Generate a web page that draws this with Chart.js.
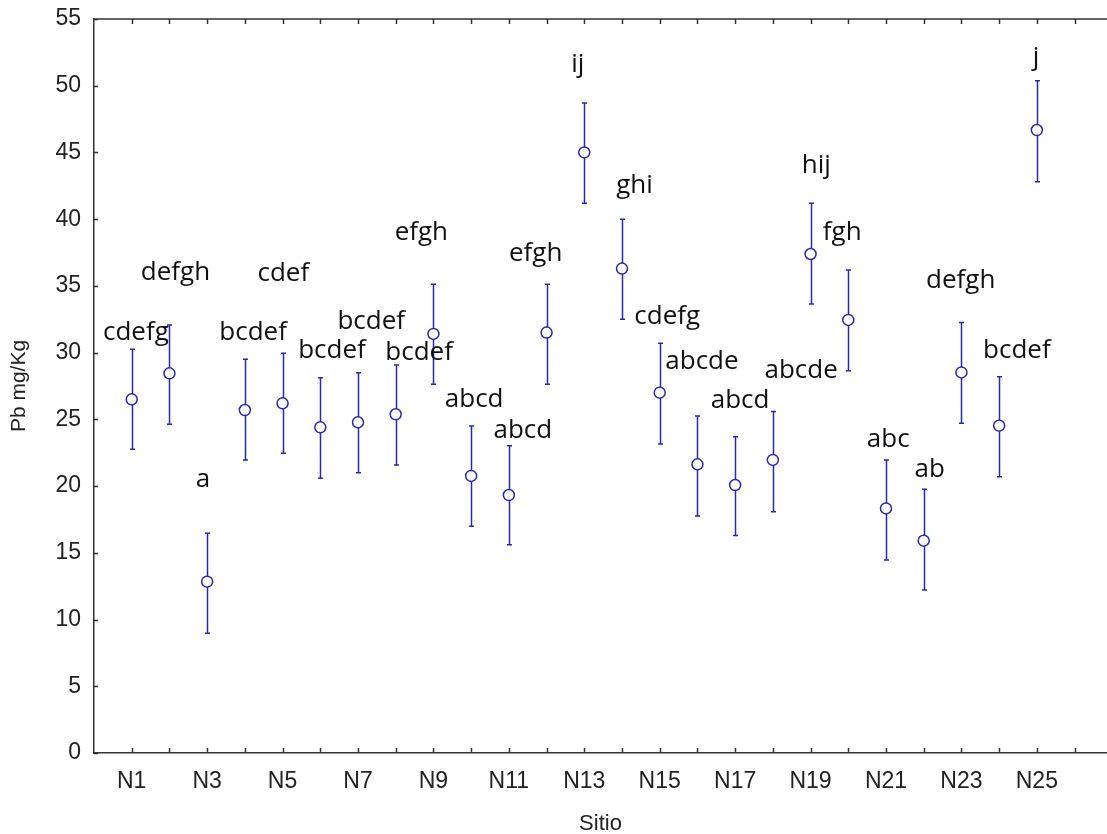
<!DOCTYPE html>
<html>
<head>
<meta charset="utf-8">
<script src="https://cdn.jsdelivr.net/npm/chart.js@4.4.0/dist/chart.umd.min.js"></script>
<style>
html,body{margin:0;padding:0;background:#fff;overflow:hidden}
#wrap{width:1107px;height:834px;position:relative}
</style>
</head>
<body>
<div id="wrap"><canvas id="c" width="1107" height="834"></canvas></div>
<script>
// ---- data ----
const sites = ['N1','N2','N3','N4','N5','N6','N7','N8','N9','N10','N11','N12','N13','N14','N15','N16','N17','N18','N19','N20','N21','N22','N23','N24','N25'];
const means = [26.5,28.45,12.84,25.7,26.2,24.4,24.78,25.38,31.4,20.76,19.33,31.5,45.0,36.3,27.0,21.63,20.08,21.96,37.39,32.45,18.33,15.91,28.52,24.53,46.68];
const upper = [30.25,32.07,16.46,29.5,29.95,28.12,28.5,29.07,35.12,24.5,23.03,35.12,48.7,40.0,30.7,25.25,23.7,25.58,41.19,36.19,21.96,19.76,32.25,28.2,50.38];
const lower = [22.76,24.63,8.97,21.96,22.46,20.58,21.0,21.58,27.63,17.0,15.6,27.63,41.2,32.5,23.15,17.76,16.3,18.08,33.65,28.65,14.46,12.21,24.71,20.7,42.81];
const letters = ['cdefg','defgh','a','bcdef','cdef','bcdef','bcdef','bcdef','efgh','abcd','abcd','efgh','ij','ghi','cdefg','abcde','abcd','abcde','hij','fgh','abc','ab','defgh','bcdef','j'];
// letter anchor positions (category units, value units of the text baseline)
const letterX = [1.11,2.16,2.89,4.22,5.02,6.31,7.35,8.62,8.68,10.08,11.37,11.71,12.83,14.33,15.2,16.12,17.13,18.75,19.15,19.84,21.06,22.16,22.98,24.47,24.98];
const letterY = [30.95,35.44,19.96,30.95,35.4,29.57,31.77,29.45,38.44,25.95,23.58,36.87,51.0,41.94,32.15,28.75,25.83,28.08,43.44,38.44,22.91,20.7,34.82,29.57,51.55];
const yTickValues = [0,5,10,15,20,25,30,35,40,45,50,55];
const xTickValues = [1,2,3,4,5,6,7,8,9,10,11,12,13,14,15,16,17,18,19,20,21,22,23,24,25,26];

const MARK = '#2a2aa8';
const AXIS = '#333333';

const decor = {
  id: 'decor',
  beforeDatasetsDraw(chart) {
    const {ctx, scales: {x, y}} = chart;
    ctx.save();
    ctx.strokeStyle = MARK;
    ctx.lineWidth = 1.5;
    for (let i = 0; i < means.length; i++) {
      const px = Math.round(x.getPixelForValue(i + 1)) + 0.5;
      const pt = y.getPixelForValue(upper[i]);
      const pb = y.getPixelForValue(lower[i]);
      ctx.beginPath();
      ctx.moveTo(px, pt); ctx.lineTo(px, pb);
      ctx.moveTo(px - 2.5, pt); ctx.lineTo(px + 2.5, pt);
      ctx.moveTo(px - 2.5, pb); ctx.lineTo(px + 2.5, pb);
      ctx.stroke();
    }
    ctx.restore();
  },
  afterDraw(chart) {
    const {ctx, chartArea: a, scales: {x, y}} = chart;
    ctx.save();
    ctx.strokeStyle = AXIS;
    ctx.lineWidth = 1.5;
    ctx.beginPath();
    // top frame line
    ctx.moveTo(a.left, a.top); ctx.lineTo(a.right, a.top);
    // inward ticks
    xTickValues.forEach(v => {
      const px = Math.round(x.getPixelForValue(v)) + 0.5;
      ctx.moveTo(px, a.bottom); ctx.lineTo(px, a.bottom - 5);
      ctx.moveTo(px, a.top); ctx.lineTo(px, a.top + 5);
    });
    yTickValues.forEach(v => {
      const py = Math.round(y.getPixelForValue(v)) + 0.5;
      ctx.moveTo(a.left, py); ctx.lineTo(a.left + 4, py);
    });
    ctx.stroke();
    // letters
    ctx.fillStyle = '#111';
    ctx.font = '26px "Open Sans"';
    ctx.textAlign = 'center';
    ctx.textBaseline = 'alphabetic';
    letters.forEach((t, i) => {
      ctx.fillText(t, x.getPixelForValue(letterX[i]), y.getPixelForValue(letterY[i]));
    });
    ctx.restore();
  }
};

new Chart(document.getElementById('c'), {
  type: 'scatter',
  data: {
    datasets: [{
      data: means.map((m, i) => ({x: i + 1, y: m})),
      pointRadius: 5.5,
      pointHoverRadius: 5.5,
      pointBorderWidth: 1.5,
      pointBorderColor: MARK,
      pointBackgroundColor: '#ffffff',
      showLine: false
    }]
  },
  options: {
    responsive: false,
    animation: false,
    events: [],
    layout: {autoPadding: false, padding: {top: 19, right: 0, left: 0, bottom: 0}},
    plugins: {legend: {display: false}, tooltip: {enabled: false}},
    scales: {
      x: {
        type: 'linear',
        min: 0,
        max: 26.86,
        afterBuildTicks(scale) { scale.ticks = xTickValues.map(v => ({value: v})); },
        afterFit(scale) { scale.height = 81; scale.paddingLeft = 0; scale.paddingRight = 0; },
        ticks: {
          autoSkip: false,
          maxRotation: 0,
          padding: 15,
          color: '#222',
          font: {family: '"Liberation Sans", Arial, sans-serif', size: 23},
          callback: (v) => (v % 2 === 1 && v <= 25) ? sites[v - 1] : ''
        },
        grid: {display: true, drawOnChartArea: false, drawTicks: false},
        border: {display: true, color: AXIS, width: 1.5},
        title: {
          display: true, text: 'Sitio', color: '#222',
          font: {family: '"Liberation Sans", Arial, sans-serif', size: 22},
          padding: {top: 0, bottom: -3}
        }
      },
      y: {
        min: 0,
        max: 55,
        afterBuildTicks(scale) { scale.ticks = yTickValues.map(v => ({value: v})); },
        afterFit(scale) { scale.width = 94; scale.paddingTop = 0; scale.paddingBottom = 0; },
        ticks: {
          padding: 13,
          color: '#222',
          font: {family: '"Liberation Sans", Arial, sans-serif', size: 23}
        },
        grid: {display: true, drawOnChartArea: false, drawTicks: false},
        border: {display: true, color: AXIS, width: 1.5},
        title: {
          display: true, text: 'Pb mg/Kg', color: '#222',
          font: {family: '"Liberation Sans", Arial, sans-serif', size: 21},
          padding: {top: 7, bottom: 0}
        }
      }
    }
  },
  plugins: [decor]
});
</script>
</body>
</html>
